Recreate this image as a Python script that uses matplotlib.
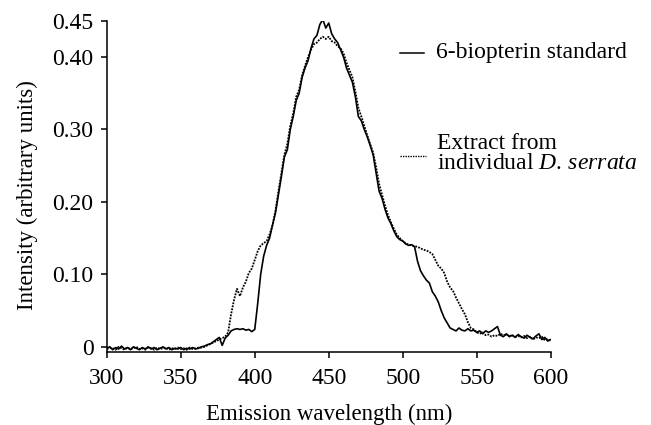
import numpy as np
import matplotlib
matplotlib.use("Agg")
import matplotlib.pyplot as plt
from matplotlib.lines import Line2D

plt.rcParams['font.family'] = ['Liberation Serif', 'DejaVu Serif']
plt.rcParams['mathtext.fontset'] = 'custom'
plt.rcParams['mathtext.rm'] = 'Liberation Serif'
plt.rcParams['mathtext.it'] = 'Liberation Serif:italic'

# emission wavelength grid (nm)
wavelength = np.arange(300, 602, 2)

# 6-biopterin standard (solid)
standard = [
    -0.002, 0.000, -0.004, -0.001, -0.003, 0.001, -0.003, -0.001, -0.004, 0.000,
    -0.002, -0.004, -0.001, -0.003, 0.000, -0.003, -0.001, -0.004, -0.002, 0.000,
    -0.003, -0.001, -0.004, -0.002, -0.003, -0.001, -0.004, -0.002, -0.003, -0.001,
    -0.003, -0.002, 0.000, 0.001, 0.003, 0.004, 0.007, 0.010, 0.013, 0.002,
    0.012, 0.016, 0.022, 0.024, 0.025, 0.024, 0.025, 0.023, 0.024, 0.021,
    0.024, 0.060, 0.100, 0.125, 0.140, 0.150, 0.168, 0.185, 0.210, 0.235,
    0.262, 0.272, 0.300, 0.318, 0.340, 0.350, 0.372, 0.385, 0.395, 0.412,
    0.425, 0.430, 0.445, 0.452, 0.440, 0.447, 0.432, 0.425, 0.420, 0.410,
    0.400, 0.385, 0.375, 0.365, 0.345, 0.318, 0.312, 0.300, 0.290, 0.278,
    0.265, 0.240, 0.215, 0.205, 0.190, 0.178, 0.170, 0.160, 0.152, 0.148,
    0.146, 0.142, 0.140, 0.141, 0.138, 0.118, 0.105, 0.098, 0.092, 0.088,
    0.076, 0.070, 0.062, 0.050, 0.040, 0.033, 0.026, 0.024, 0.022, 0.026,
    0.023, 0.022, 0.025, 0.022, 0.023, 0.020, 0.022, 0.018, 0.022, 0.020,
    0.022, 0.025, 0.028, 0.016, 0.014, 0.018, 0.014, 0.016, 0.013, 0.017,
    0.014, 0.012, 0.016, 0.013, 0.011, 0.015, 0.018, 0.010, 0.013, 0.008,
    0.010,
]

# extract from individual D. serrata (dotted)
extract = [
    -0.003, -0.001, -0.002, -0.004, 0.000, -0.002, -0.004, -0.001, -0.003, -0.002,
    0.000, -0.003, -0.002, -0.004, -0.001, -0.002, -0.004, -0.001, -0.003, -0.002,
    -0.001, -0.004, -0.002, -0.003, -0.001, -0.003, -0.002, -0.004, -0.001, -0.003,
    -0.002, -0.001, -0.001, 0.000, 0.002, 0.004, 0.006, 0.008, 0.010, 0.012,
    0.014, 0.020, 0.045, 0.065, 0.080, 0.070, 0.082, 0.090, 0.102, 0.108,
    0.120, 0.132, 0.140, 0.143, 0.146, 0.155, 0.168, 0.188, 0.215, 0.240,
    0.265, 0.280, 0.305, 0.322, 0.345, 0.355, 0.375, 0.388, 0.400, 0.410,
    0.418, 0.420, 0.425, 0.428, 0.425, 0.428, 0.422, 0.420, 0.415, 0.412,
    0.405, 0.392, 0.382, 0.372, 0.352, 0.330, 0.318, 0.305, 0.292, 0.280,
    0.268, 0.248, 0.225, 0.210, 0.195, 0.182, 0.172, 0.163, 0.155, 0.150,
    0.146, 0.143, 0.141, 0.140, 0.139, 0.138, 0.136, 0.134, 0.133, 0.131,
    0.128, 0.120, 0.112, 0.108, 0.102, 0.090, 0.082, 0.077, 0.068, 0.060,
    0.052, 0.045, 0.034, 0.026, 0.024, 0.020, 0.018, 0.020, 0.016, 0.017,
    0.014, 0.016, 0.015, 0.018, 0.016, 0.017, 0.015, 0.016, 0.014, 0.015,
    0.013, 0.015, 0.012, 0.014, 0.010, 0.013, 0.012, 0.014, 0.009, 0.011,
    0.008,
]

xticks = [300, 350, 400, 450, 500, 550, 600]
yticks = [0, 0.10, 0.20, 0.30, 0.40, 0.45]
ytick_labels = ['0', '0.10', '0.20', '0.30', '0.40', '0.45']

fig = plt.figure(figsize=(6.51, 4.25), dpi=100)
ax = fig.add_axes([0.164, 0.172, 0.682, 0.779])

ax.plot(wavelength, standard, color='black', lw=1.2, ls='-')
ax.plot(wavelength, extract, color='black', lw=1.3, ls=(0, (1, 0.7)))

ax.set_xlim(300, 600)
ax.set_ylim(-0.007, 0.45)
ax.set_xticks(xticks)
ax.set_yticks(yticks)
ax.set_yticklabels(ytick_labels)

for side in ['top', 'right']:
    ax.spines[side].set_visible(False)
for side in ['left', 'bottom']:
    ax.spines[side].set_linewidth(1.1)
ax.tick_params(direction='out', length=4.5, width=1.1, labelsize=17)
ax.tick_params(axis='x', pad=7)
ax.tick_params(axis='y', pad=5)

ax.set_xlabel('Emission wavelength (nm)', fontsize=16.5, labelpad=11)
ax.set_ylabel('Intensity (arbitrary units)', fontsize=16.5)
ax.yaxis.set_label_coords(-0.155, 0.474)

# legend drawn by hand, keys beside the text
ax.add_line(Line2D([0.660, 0.714], [0.903, 0.903], transform=ax.transAxes,
                   color='black', lw=1.1, clip_on=False))
ax.text(0.741, 0.903, '6-biopterin standard', transform=ax.transAxes,
        fontsize=17, va='center', ha='left')
ax.add_line(Line2D([0.660, 0.720], [0.592, 0.592], transform=ax.transAxes,
                   color='black', lw=1.0, ls=(0, (1, 0.8)), clip_on=False))
ax.text(0.743, 0.600, 'Extract from\nindividual $D.\\,serrata$', transform=ax.transAxes,
        fontsize=17, va='center', ha='left', linespacing=0.95)

fig.savefig('out.png', dpi=100)
